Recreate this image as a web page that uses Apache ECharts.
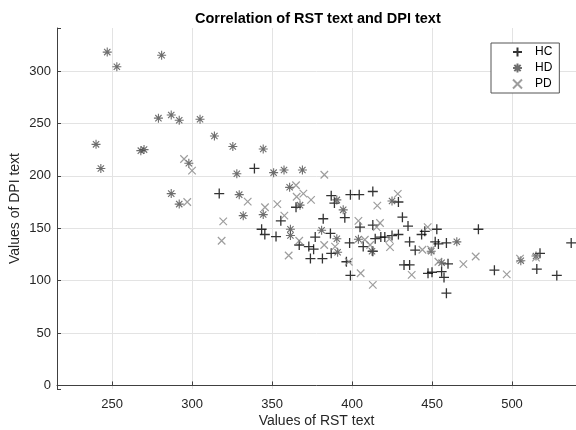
<!DOCTYPE html>
<html>
<head>
<meta charset="utf-8">
<script src="https://cdn.jsdelivr.net/npm/echarts@6/dist/echarts.min.js"></script>
<style>
    html, body { margin: 0; padding: 0; background: #fff; }
    #chart { width: 576px; height: 430px; }
</style>
</head>
<body>
<div id="chart"></div>
<script>
// [RST, DPI] per group
const hc = [
    [317, 183], [339, 207], [343.5, 149], [345.5, 144], [352.5, 142], [355.5, 157], [365, 170],
    [367, 134], [373, 132.5], [374, 121], [376, 130], [377, 141.5], [381.5, 121], [382, 159],
    [386.5, 145], [387, 126], [387, 181], [389, 174], [395.5, 160], [396.5, 118], [398.5, 136],
    [399, 105], [399, 182], [404.5, 182], [405, 151], [407, 132.5], [413, 185], [413, 153],
    [413, 128], [414.5, 140], [418, 141.5], [420.5, 141.5], [425, 143], [429, 144], [429, 175],
    [431.5, 160.5], [435, 152], [432.5, 115], [436, 115], [436, 137], [439.5, 129], [443.5, 144],
    [445.5, 147], [447.5, 107], [450, 108], [453, 149], [452, 137], [454, 135], [459, 136],
    [460, 116], [456, 108.5], [457.5, 103], [459, 88], [479, 149], [489, 110], [515.5, 111],
    [517.5, 126], [528, 105], [537, 136]
];
const hd = [
    [247, 318], [253, 304], [281, 315], [240, 230], [243, 207], [268, 224], [270, 225],
    [279, 255], [287, 258], [292, 253], [305, 254], [298, 212], [287, 183], [292, 173],
    [314, 238], [325.5, 228], [344.5, 225.5], [328, 202], [329.5, 182], [332, 162], [344.5, 163],
    [351, 203], [357.5, 205.5], [369, 205.5], [361, 189], [367.5, 172], [361.5, 149], [361.5, 143],
    [381, 148], [390.5, 177], [390.5, 140], [391, 127], [394.5, 167.5], [404, 139.5], [412.5, 128],
    [425, 176], [449.5, 128], [465.5, 137], [456, 117], [505.5, 119], [515, 123.5]
];
const pd = [
    [295, 216], [300, 205], [297, 175], [318.5, 138], [319.5, 156.5], [334.8, 175.4], [345.6, 170],
    [353.3, 173], [357.7, 162], [365, 191], [365.4, 180], [369.6, 183], [374.4, 177], [382.7, 201],
    [360.4, 124], [367, 138], [382.6, 134], [389.4, 132.5], [398, 118], [404, 157], [405.4, 107],
    [408, 139], [411.3, 134], [415.8, 171.6], [417.5, 155], [415.4, 151], [423.3, 139.6],
    [423.75, 132], [428.6, 182.7], [437.3, 105.5], [444, 129.4], [447.3, 151], [449.4, 129.4],
    [454, 118], [469.6, 115.7], [477.3, 123], [496.7, 106], [505, 121], [515, 122], [413, 96]
];
const groupNames = ['HC', 'HD', 'PD'];

const plusPath = 'path://M5,0V10M0,5H10';
const starPath = 'path://M5,0V10M0,5H10M1.5,1.5L8.5,8.5M8.5,1.5L1.5,8.5';
const crossPath = 'path://M0,0L10,10M10,0L0,10';

const font = 'Liberation Sans, Arial, Helvetica, sans-serif';
const axisColor = '#404040';
const gridColor = '#e3e3e3';

const tickFormatter = v => (Math.abs(v % 50) < 1e-6 ? String(v) : '');

const makeSeries = (name, data, symbol, size, color, width) => ({
    name: name,
    type: 'scatter',
    data: data,
    symbol: symbol,
    symbolSize: size,
    itemStyle: {
        color: 'rgba(0,0,0,0)',
        borderColor: color,
        borderWidth: width,
    },
    emphasis: {disabled: true},
});

const chart = echarts.init(document.getElementById('chart'));
chart.setOption({
    animation: false,
    textStyle: {fontFamily: font},
    title: {
        text: 'Correlation of RST text and DPI text',
        left: 190,
        top: 6,
        textStyle: {fontSize: 14.5, fontWeight: 'bold', color: '#000', fontFamily: font},
    },
    legend: {
        orient: 'vertical',
        left: 491,
        top: 43,
        padding: [3, 7, 3, 21],
        itemWidth: 9,
        itemHeight: 9,
        itemGap: 4,
        borderColor: '#555',
        borderWidth: 1,
        backgroundColor: '#fff',
        data: groupNames,
        textStyle: {fontSize: 12, color: '#000', padding: [0, 0, 0, 8]},
    },
    grid: {left: 57, right: 0, top: 28, bottom: 41, outerBoundsMode: 'none'},
    xAxis: {
        type: 'value',
        min: 215.6,
        max: 540,
        name: 'Values of RST text',
        nameLocation: 'middle',
        nameGap: 25,
        nameMoveOverlap: false,
        nameTextStyle: {fontSize: 14, color: '#262626'},
        axisLine: {show: true, lineStyle: {color: axisColor}},
        axisTick: {show: true, inside: true, length: 4, lineStyle: {color: axisColor}},
        axisLabel: {formatter: tickFormatter, fontSize: 13, color: '#262626', margin: 9},
        splitLine: {show: true, showMinLine: false, showMaxLine: false, lineStyle: {color: gridColor}},
    },
    yAxis: {
        type: 'value',
        min: -3.4,
        max: 341,
        name: 'Values of DPI text',
        nameLocation: 'middle',
        nameGap: 35,
        nameMoveOverlap: false,
        nameTextStyle: {fontSize: 14, color: '#262626'},
        axisLine: {show: true, lineStyle: {color: axisColor}},
        axisTick: {show: true, inside: true, length: 4, lineStyle: {color: axisColor}},
        axisLabel: {formatter: tickFormatter, fontSize: 13, color: '#262626', margin: 6},
        splitLine: {show: true, showMinLine: false, showMaxLine: false, lineStyle: {color: gridColor}},
    },
    series: [
        makeSeries('HC', hc, plusPath, 10, '#000', 1.3),
        makeSeries('HD', hd, starPath, 9, '#4a4a4a', 1.1),
        makeSeries('PD', pd, crossPath, 7.5, '#858585', 1.2),
    ],
});
</script>
</body>
</html>
